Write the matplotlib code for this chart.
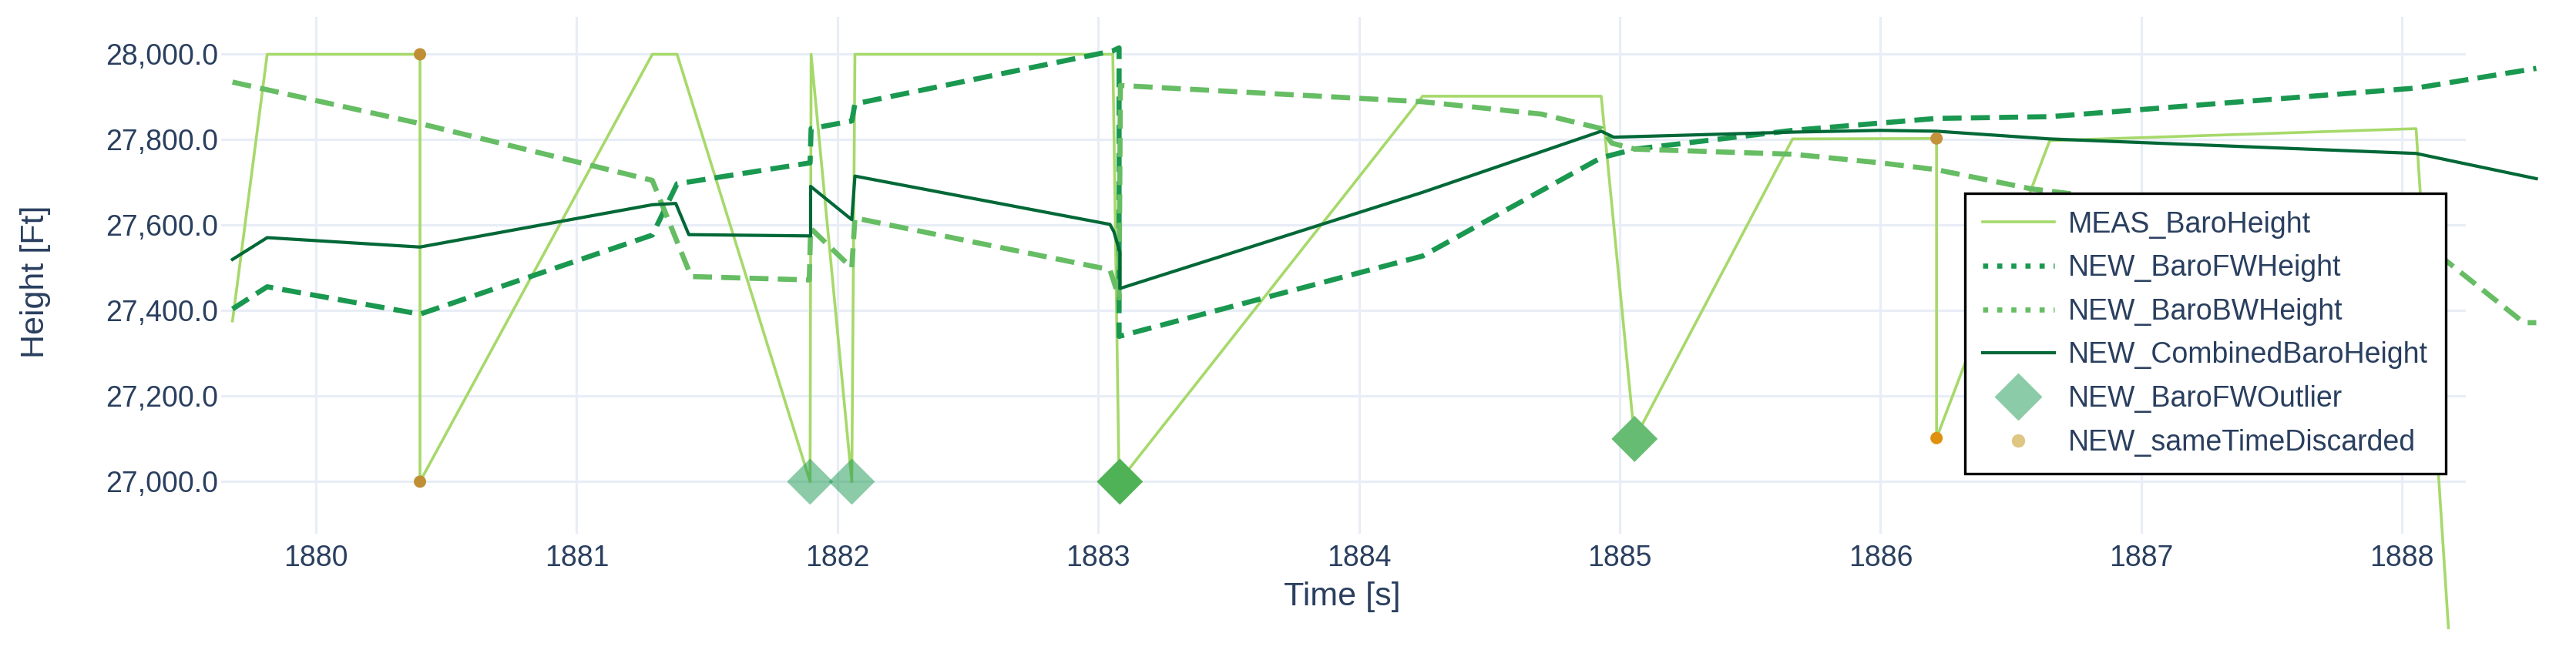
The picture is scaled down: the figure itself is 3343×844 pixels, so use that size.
import matplotlib
matplotlib.use("Agg")
import matplotlib.pyplot as plt
from matplotlib.lines import Line2D

plt.rcParams['font.family'] = ['Liberation Sans', 'DejaVu Sans']

# ---------------- data ----------------
meas_t = [1879.680, 1879.813, 1880.399, 1880.399, 1881.290, 1881.385, 1881.895, 1881.899,
          1882.055, 1882.067, 1883.056, 1883.080, 1884.244, 1884.929, 1885.057, 1885.663,
          1886.215, 1886.215, 1886.649, 1888.054, 1888.178]
meas_h = [27376, 28000, 28000, 27000, 28000, 28000, 27000, 28000,
          27000, 28000, 28000, 27000, 27902, 27902, 27100, 27802,
          27803, 27102, 27798, 27826, 26658]

fw_t = [1879.680, 1879.813, 1880.399, 1881.290, 1881.385, 1881.895, 1881.899, 1882.055,
        1882.067, 1883.056, 1883.080, 1883.080, 1884.244, 1884.929, 1885.057, 1885.663,
        1886.215, 1886.649, 1888.054, 1888.515]
fw_h = [27404, 27456, 27392, 27577, 27697, 27746, 27826, 27844,
        27884, 28008, 28015, 27340, 27528, 27758, 27778, 27822,
        27850, 27854, 27921, 27967]

bw_t = [1879.680, 1880.399, 1881.290, 1881.439, 1881.892, 1881.897, 1882.055, 1882.067,
        1883.045, 1883.080, 1883.085, 1884.244, 1884.700, 1884.930, 1884.970, 1885.060,
        1885.668, 1886.000, 1886.215, 1886.580, 1888.054, 1888.467, 1888.515]
bw_h = [27935, 27838, 27705, 27480, 27472, 27593, 27500, 27617,
        27496, 27430, 27927, 27889, 27860, 27826, 27792, 27778,
        27766, 27746, 27730, 27685, 27573, 27372, 27372]

comb_t = [1879.680, 1879.813, 1880.399, 1881.290, 1881.380, 1881.430, 1881.897, 1881.897,
          1882.055, 1882.067, 1883.045, 1883.060, 1883.083, 1883.083, 1884.244, 1884.929,
          1884.977, 1885.668, 1886.000, 1886.215, 1886.649, 1888.054, 1888.515]
comb_h = [27520, 27571, 27549, 27648, 27651, 27578, 27575, 27691,
          27613, 27715, 27602, 27585, 27537, 27452, 27677, 27820,
          27806, 27818, 27822, 27820, 27802, 27768, 27709]

outlier_t = [1881.895, 1882.055, 1883.083, 1885.057]
outlier_h = [27000, 27000, 27000, 27100]

discard_t = [1880.399, 1880.399, 1886.215, 1886.215]
discard_h = [28000, 27000, 27803, 27102]

x_ticks = [1880, 1881, 1882, 1883, 1884, 1885, 1886, 1887, 1888]
y_ticks = [27000, 27200, 27400, 27600, 27800, 28000]
y_tick_labels = ["27,000.0", "27,200.0", "27,400.0", "27,600.0", "27,800.0", "28,000.0"]

series_names = ["MEAS_BaroHeight", "NEW_BaroFWHeight", "NEW_BaroBWHeight",
                "NEW_CombinedBaroHeight", "NEW_BaroFWOutlier", "NEW_sameTimeDiscarded"]

# ---------------- styles ----------------
C_MEAS = '#a6d96a'
C_FW = '#1a9850'
C_BW = '#66bd63'
C_COMB = '#006837'
C_TEXT = '#2a3f5f'
C_GRID = '#e8edf6'
outlier_colors = [(0.102, 0.596, 0.314, 0.5), (0.102, 0.596, 0.314, 0.5),
                  '#4fb256', '#66bc72']
discard_colors = ['#c08f35', '#c08f35', '#c4923a', '#e0900f']
LW_MEAS, LW_DASH, LW_COMB = 2.6, 4.8, 3.0

W, H = 3343, 844
fig = plt.figure(figsize=(W / 100, H / 100), dpi=100)
fig.patch.set_facecolor('white')
ax = fig.add_axes([287 / W, 1 - 693 / H, 2913 / W, 671.5 / H])
ax.set_facecolor('white')

ax.set_xlim(1879.6365, 1888.2447)
ax.set_ylim(26878.2, 28088.3)

ax.set_xticks(x_ticks)
ax.set_yticks(y_ticks, labels=y_tick_labels)
ax.grid(True, color=C_GRID, lw=2.3)
ax.set_axisbelow(True)
for s in ax.spines.values():
    s.set_visible(False)
ax.tick_params(axis='both', length=0, labelsize=27, labelcolor=C_TEXT)
ax.tick_params(axis='x', pad=10)
ax.tick_params(axis='y', pad=3)

ax.plot(meas_t, meas_h, color=C_MEAS, lw=LW_MEAS, clip_on=False, zorder=3)
ax.plot(fw_t, fw_h, color=C_FW, lw=LW_DASH, dashes=(3.7, 1.8), clip_on=False, zorder=4)
ax.plot(bw_t, bw_h, color=C_BW, lw=LW_DASH, dashes=(3.7, 1.8), clip_on=False, zorder=4)
ax.plot(comb_t, comb_h, color=C_COMB, lw=LW_COMB, clip_on=False, zorder=5)
ax.scatter(outlier_t, outlier_h, marker='D', s=30.5 ** 2, c=outlier_colors,
           linewidths=0, clip_on=False, zorder=6)
ax.scatter(discard_t, discard_h, marker='o', s=11.5 ** 2, c=discard_colors,
           linewidths=0, clip_on=False, zorder=7)

ax.set_xlabel("Time [s]", fontsize=31, color=C_TEXT, va='center')
ax.xaxis.set_label_coords((1742 - 287) / 2913, (693 - 775) / 671.5)
ax.set_ylabel("Height [Ft]", fontsize=31, color=C_TEXT, va='center')
ax.yaxis.set_label_coords((46 - 287) / 2913, (693 - 366) / 671.5)

handles = [
    Line2D([], [], color=C_MEAS, lw=LW_MEAS),
    Line2D([], [], color=C_FW, lw=LW_DASH, dashes=(1.0, 1.75)),
    Line2D([], [], color=C_BW, lw=LW_DASH, dashes=(1.0, 1.75)),
    Line2D([], [], color=C_COMB, lw=LW_COMB),
    Line2D([], [], color='#8ccba7', marker='D', markersize=30.5, ls='none'),
    Line2D([], [], color='#dfc683', marker='o', markersize=11.5, ls='none'),
]
leg = fig.legend(handles, series_names, loc='upper left',
                 bbox_to_anchor=(2550 / W, 1 - 251 / H), bbox_transform=fig.transFigure,
                 borderaxespad=0, fontsize=27, labelcolor=C_TEXT,
                 handlelength=2.48, handletextpad=0.5, labelspacing=0.55,
                 borderpad=0.6, fancybox=False, framealpha=1, edgecolor='black')
leg.get_frame().set_linewidth(2.4)
leg.set_zorder(10)

fig.savefig("out.png", dpi=100, facecolor='white')
